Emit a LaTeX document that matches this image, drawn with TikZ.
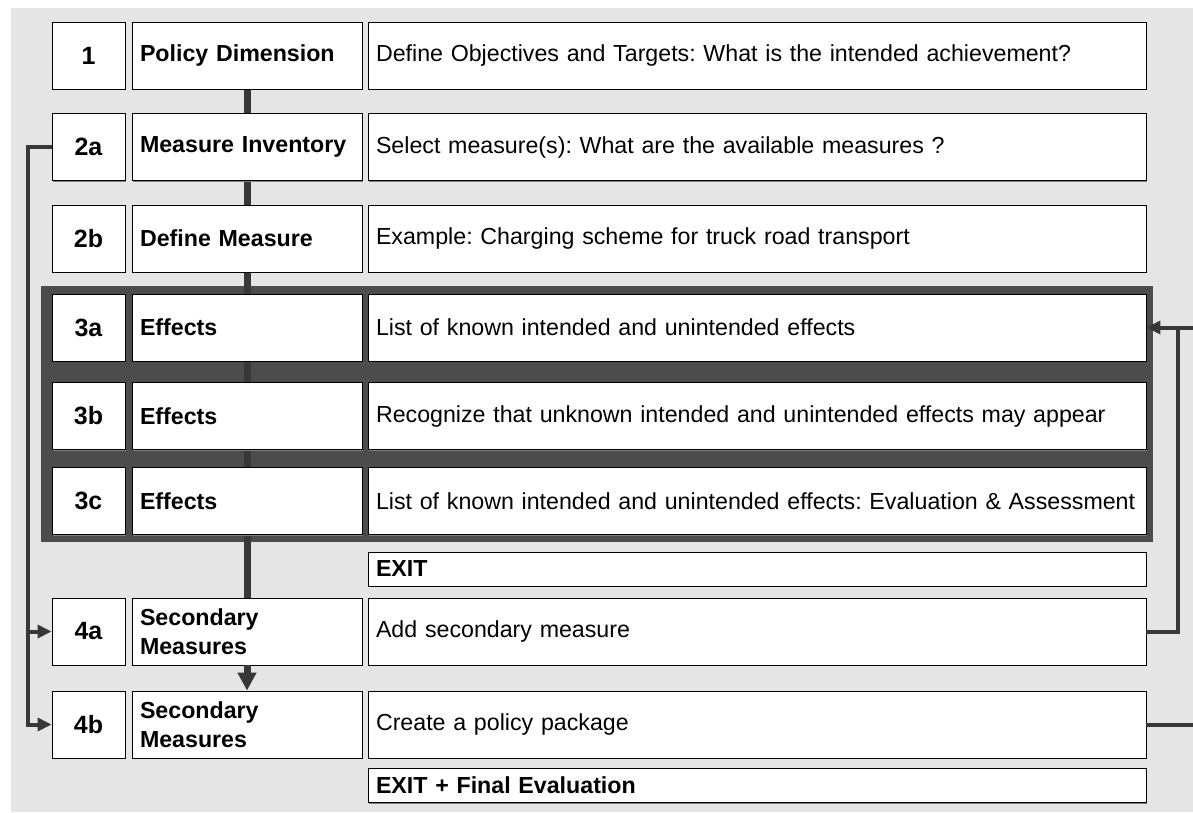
\documentclass[tikz,border=0pt]{standalone}
\usepackage{fontspec}
\setmainfont{Liberation Sans}
\usetikzlibrary{arrows.meta,backgrounds,shadows}

\newcommand{\boxfont}{\fontsize{23.2}{29}\selectfont\frenchspacing\hyphenpenalty=10000}

\begin{document}
\begin{tikzpicture}[x=1pt, y=-1pt, font=\boxfont, >={Triangle[length=14pt,width=13pt]}]
    \tikzset{box/.style={draw=black, line width=0.9pt, fill=white, minimum height=67pt, inner sep=0pt,
            drop shadow={shadow xshift=1.2pt, shadow yshift=-1.2pt, fill=black!50, opacity=1}},
        numbox/.style={box, minimum width=73pt, font=\fontsize{25}{29}\selectfont\bfseries},
        labbox/.style={box, text width=214pt, inner xsep=8pt, align=left, font=\boxfont\bfseries},
        descbox/.style={box, text width=762pt, inner xsep=8pt, align=left},
        exitbox/.style={descbox, minimum height=34pt, font=\boxfont\bfseries},
        spine/.style={draw=black!78, line width=7pt},
        backline/.style={draw=black!78, line width=4pt}}
    \useasboundingbox (0,0) rectangle (1193,812);

    % step rows
    \node[numbox] (num1) at (88.5,55.5) {1};
    \node[labbox] (lab1) at (247,55.5) {Policy Dimension};
    \node[descbox] (desc1) at (757,55.5) {Define Objectives and Targets: What is the intended achievement?};

    \node[numbox] (num2a) at (88.5,147) {2a};
    \node[labbox] (lab2a) at (247,147) {Measure Inventory};
    \node[descbox] (desc2a) at (757,147) {Select measure(s): What are the available measures ?};

    \node[numbox] (num2b) at (88.5,238.5) {2b};
    \node[labbox] (lab2b) at (247,238.5) {Define Measure};
    \node[descbox] (desc2b) at (757,238.5) {Example: Charging scheme for truck road transport};

    \node[numbox] (num3a) at (88.5,327.5) {3a};
    \node[labbox] (lab3a) at (247,327.5) {Effects};
    \node[descbox] (desc3a) at (757,327.5) {List of known intended and unintended effects};

    \node[numbox] (num3b) at (88.5,416) {3b};
    \node[labbox] (lab3b) at (247,416) {Effects};
    \node[descbox] (desc3b) at (757,416) {Recognize that unknown intended and unintended effects may appear};

    \node[numbox] (num3c) at (88.5,501) {3c};
    \node[labbox] (lab3c) at (247,501) {Effects};
    \node[descbox] (desc3c) at (757,501) {List of known intended and unintended effects: Evaluation \& Assessment};

    \node[exitbox] (exit1) at (757,569) {EXIT};

    \node[numbox] (num4a) at (88.5,631.5) {4a};
    \node[labbox] (lab4a) at (247,631.5) {Secondary\\Measures};
    \node[descbox] (desc4a) at (757,631.5) {Add secondary measure};

    \node[numbox] (num4b) at (88.5,724.5) {4b};
    \node[labbox] (lab4b) at (247,724.5) {Secondary\\Measures};
    \node[descbox] (desc4b) at (757,724.5) {Create a policy package};

    \node[exitbox] (exit2) at (757,785.5) {EXIT + Final Evaluation};

    % frame, effects band and main flow behind the boxes
    \begin{scope}[on background layer]
        \fill[black!10] (11,8) rectangle (1193,812);
        \fill[black!70] (41,286) rectangle (1153,542);
        \draw[spine] (lab1.south) -- (lab4a.north);
    \end{scope}

    \draw[spine, -{Triangle[length=18pt,width=18pt]}] (lab4a.south) -- (lab4b.north);

    % feedback lines
    \coordinate (lk) at (28,147);
    \draw[backline, ->] (num2a.west) -- (lk) |- (num4b.west);
    \draw[backline, ->] (lk |- num4a.west) -- (num4a.west);

    \coordinate (rk) at (1178,631.5);
    \coordinate (rt) at (1193,327.5);
    \coordinate (rb) at (1193,724.5);
    \draw[backline] (desc4a.east) -- (rk) -- (rk |- rt);
    \draw[backline, ->] (rt) -- (desc3a.east);
    \draw[backline] (desc4b.east) -- (rb);
\end{tikzpicture}
\end{document}
